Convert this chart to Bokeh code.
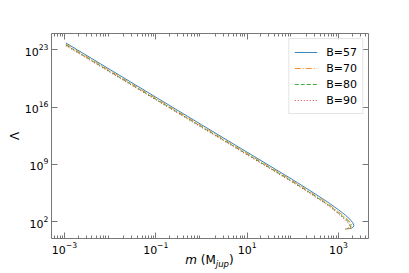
from bokeh.plotting import figure
from bokeh.models import FixedTicker, LogAxis, Range1d, CustomJSTickFormatter, Div
from bokeh.layouts import column
from bokeh.embed import file_html
from bokeh.resources import INLINE

# ---- data (log10 values) ----
labels = ["B=57", "B=70", "B=80", "B=90"]
logm_57 = [-2.97, -2.0, -1.0, 0.0, 1.0, 2.0, 2.4, 2.8, 3.0, 3.15, 3.25, 3.31, 3.34, 3.33, 3.29, 3.24]
logL_57 = [23.80, 20.55, 17.20, 13.85, 10.50, 7.15, 5.75, 4.30, 3.50, 2.85, 2.35, 1.95, 1.60, 1.40, 1.25, 1.18]
logm_70 = [-2.97, -2.0, -1.0, 0.0, 1.0, 2.0, 2.4, 2.8, 3.0, 3.12, 3.21, 3.27, 3.30, 3.29, 3.25, 3.20]
logL_70 = [23.65, 20.40, 17.05, 13.70, 10.35, 7.00, 5.58, 4.10, 3.25, 2.70, 2.25, 1.88, 1.58, 1.38, 1.23, 1.16]
logm_80 = [-2.97, -2.0, -1.0, 0.0, 1.0, 2.0, 2.4, 2.8, 3.0, 3.10, 3.19, 3.24, 3.27, 3.26, 3.22, 3.17]
logL_80 = [23.55, 20.30, 16.95, 13.60, 10.25, 6.90, 5.48, 4.00, 3.10, 2.65, 2.20, 1.85, 1.56, 1.36, 1.21, 1.14]
logm_90 = [-2.97, -2.0, -1.0, 0.0, 1.0, 2.0, 2.4, 2.8, 3.0, 3.08, 3.17, 3.22, 3.245, 3.235, 3.195, 3.145]
logL_90 = [23.47, 20.22, 16.87, 13.52, 10.17, 6.82, 5.40, 3.92, 3.00, 2.60, 2.15, 1.82, 1.54, 1.34, 1.19, 1.12]

x_major_ticks = [1e-3, 1e-1, 1e1, 1e3]
y_major_ticks = [1e2, 1e9, 1e16, 1e23]
x_minor_ticks = [k * 10.0 ** n for n in range(-4, 4) for k in range(2, 10)]

series = [
    (labels[0], logm_57, logL_57, "#1f77b4", "solid"),
    (labels[1], logm_70, logL_70, "#ff7f0e", "6 2 1 2"),
    (labels[2], logm_80, logL_80, "#2ca02c", "4 2"),
    (labels[3], logm_90, logL_90, "#d62728", "1 2"),
]

FONT = "DejaVu Sans"
AX = "#777777"

p = figure(width=409, height=256, x_axis_type="log", y_axis_type="log",
           x_range=Range1d(10 ** -3.285, 10 ** 3.66),
           y_range=Range1d(10 ** -0.01, 10 ** 24.95),
           output_backend="svg", toolbar_location=None,
           min_border_left=51, min_border_right=41,
           min_border_top=33, min_border_bottom=18)
p.outline_line_color = None
p.grid.visible = False
p.background_fill_color = "white"
p.border_fill_color = "white"

for lab, lm, ll, col, dash in series:
    xs = [10.0 ** v for v in lm]
    ys = [10.0 ** v for v in ll]
    p.line(xs, ys, line_color=col, line_width=0.9, line_dash=dash, legend_label=lab)

def style_axis(ax):
    ax.axis_line_color = AX
    ax.axis_line_width = 1
    ax.major_tick_line_color = AX
    ax.minor_tick_line_color = AX
    ax.major_tick_in = 6
    ax.major_tick_out = 0
    ax.minor_tick_in = 3
    ax.minor_tick_out = 0
    ax.major_label_text_font = FONT
    ax.major_label_text_color = "black"
    ax.major_label_standoff = 3
    ax.major_label_text_font_size = "11px"

p.xaxis.ticker = FixedTicker(ticks=x_major_ticks, minor_ticks=x_minor_ticks)
p.yaxis.ticker = FixedTicker(ticks=y_major_ticks, minor_ticks=[])
for ax in p.xaxis:
    style_axis(ax)
for ax in p.yaxis:
    style_axis(ax)
    ax.axis_label = "Λ"
    ax.axis_label_text_font = FONT
    ax.axis_label_text_font_style = "normal"
    ax.axis_label_text_font_size = "12px"
    ax.axis_label_text_color = "black"
    ax.axis_label_standoff = 0

blank = CustomJSTickFormatter(code="return ''")
top = LogAxis(ticker=FixedTicker(ticks=x_major_ticks, minor_ticks=x_minor_ticks), formatter=blank)
style_axis(top)
p.add_layout(top, "above")
right = LogAxis(ticker=FixedTicker(ticks=y_major_ticks, minor_ticks=[]), formatter=blank)
style_axis(right)
p.add_layout(right, "right")

lg = p.legend[0]
lg.location = "top_right"
lg.margin = 5
lg.padding = 5
lg.spacing = 0
lg.glyph_width = 23
lg.glyph_height = 16
lg.label_height = 16
lg.label_standoff = 9
lg.label_text_font = FONT
lg.label_text_font_size = "11px"
lg.label_text_color = "black"
lg.border_line_color = "#cccccc"
lg.border_line_width = 1
lg.background_fill_alpha = 0.8

xlabel = Div(
    text=('<div style="position:relative;top:-4px;box-sizing:border-box;width:409px;padding-left:10px;'
          'text-align:center;font-family:\'DejaVu Sans\';font-size:12px;line-height:12px;color:black;">'
          '<i>m</i> (M<sub style="font-size:8.5px;line-height:0;vertical-align:-3px;"><i>jup</i></sub>)</div>'),
    width=409, height=17, margin=0)

layout = column(p, xlabel, spacing=0)
open("out.html", "w").write(file_html(layout, INLINE))
